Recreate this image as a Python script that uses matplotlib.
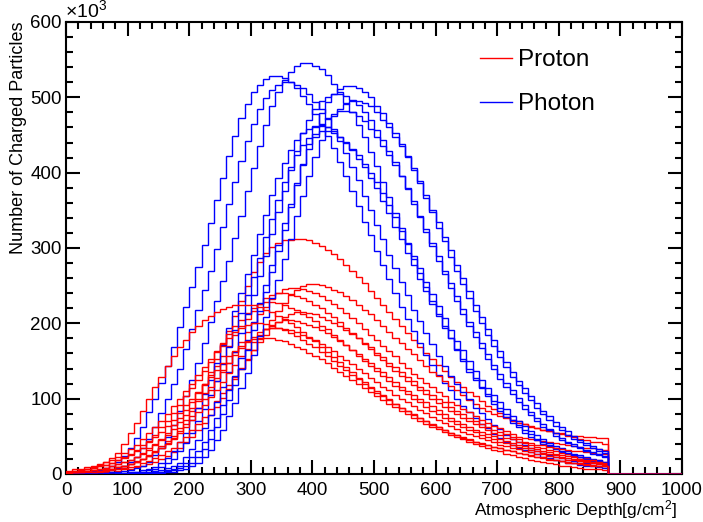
import numpy as np
import matplotlib.pyplot as plt
from matplotlib.lines import Line2D
from matplotlib.ticker import MultipleLocator

plt.rcParams['font.family'] = ['Liberation Sans', 'DejaVu Sans']
plt.rcParams['mathtext.fontset'] = 'custom'
plt.rcParams['mathtext.rm'] = 'Liberation Sans'
plt.rcParams['mathtext.it'] = 'Liberation Sans:italic'

# --- binning: 10 g/cm2 bins, axis 0-1000 ---
bin_width = 10
n_bins = 100

# --- charged particles per bin (x10^3), first bin at 0 g/cm2 ---
photon_1 = [0, 1, 2, 3, 4, 5, 8, 11, 16, 24, 34, 48, 63, 82, 100, 121, 143, 169, 195, 222, 248, 275, 304, 333, 364, 393, 422, 449, 473, 491, 507, 517, 524, 528, 528, 525, 520, 512, 502, 491, 478, 465, 449, 433, 414, 396, 375, 356, 335, 317, 296, 277, 259, 240, 222, 206, 190, 174, 158, 145, 132, 121, 111, 100, 90, 82, 74, 66, 61, 53, 48, 43, 39, 35, 32, 29, 26, 23, 21, 19, 17, 15, 14, 12, 11, 10, 9, 8]
photon_2 = [0, 0, 0, 1, 2, 3, 4, 5, 8, 10, 16, 23, 34, 47, 62, 81, 99, 120, 140, 166, 192, 218, 244, 270, 299, 328, 359, 387, 416, 442, 465, 484, 499, 510, 516, 520, 520, 517, 512, 504, 494, 484, 471, 458, 442, 426, 408, 390, 369, 351, 330, 312, 291, 273, 255, 237, 218, 203, 187, 172, 156, 143, 130, 120, 109, 99, 88, 81, 73, 65, 60, 52, 47, 43, 38, 35, 31, 28, 25, 23, 21, 19, 17, 15, 14, 12, 11, 10]
photon_3 = [0, 0, 0, 0, 0, 0, 1, 2, 3, 4, 5, 8, 11, 16, 25, 35, 49, 65, 84, 104, 125, 147, 174, 202, 229, 256, 283, 313, 343, 376, 406, 436, 463, 488, 507, 523, 534, 541, 545, 545, 542, 537, 529, 518, 507, 493, 480, 463, 447, 428, 409, 387, 368, 346, 327, 305, 286, 267, 248, 229, 213, 196, 180, 164, 150, 136, 125, 114, 104, 93, 84, 76, 68, 63, 55, 49, 45, 40, 37, 33, 29, 27, 24, 22, 20, 17, 16, 14]
photon_4 = [0, 0, 0, 0, 0, 0, 0, 0, 1, 1, 2, 3, 5, 7, 9, 14, 21, 30, 42, 55, 72, 88, 106, 125, 148, 171, 194, 217, 240, 266, 291, 319, 344, 370, 393, 413, 430, 444, 453, 458, 462, 462, 460, 455, 448, 439, 430, 418, 407, 393, 379, 363, 347, 328, 312, 293, 277, 259, 243, 226, 210, 194, 180, 166, 152, 139, 127, 116, 106, 97, 88, 79, 72, 65, 58, 53, 46, 42, 38, 34, 31, 28, 25, 23, 20, 18, 17, 15]
photon_5 = [0, 0, 0, 0, 0, 0, 0, 0, 0, 1, 1, 2, 3, 5, 7, 9, 14, 20, 30, 41, 55, 71, 86, 105, 123, 146, 168, 191, 214, 237, 262, 287, 314, 339, 364, 387, 407, 423, 437, 446, 451, 455, 455, 453, 448, 441, 432, 423, 412, 400, 387, 373, 357, 341, 323, 307, 289, 273, 255, 239, 223, 207, 191, 177, 164, 150, 137, 125, 114, 105, 96, 86, 77, 71, 64, 57, 52, 46, 41, 37, 34, 30, 27, 25, 22, 20, 18, 16]
photon_6 = [0, 0, 0, 0, 0, 0, 0, 0, 0, 0, 0, 1, 2, 3, 4, 5, 8, 10, 15, 23, 33, 45, 61, 78, 96, 116, 136, 162, 187, 212, 237, 263, 290, 318, 348, 376, 404, 429, 452, 470, 485, 495, 501, 505, 505, 502, 497, 490, 480, 470, 457, 444, 429, 414, 396, 379, 359, 341, 321, 303, 283, 265, 247, 230, 212, 197, 182, 167, 152, 139, 126, 116, 106, 96, 86, 78, 71, 63, 58, 51, 45, 41, 37, 34, 30, 27, 25, 22]
photon_7 = [0, 0, 0, 0, 0, 0, 0, 0, 0, 0, 0, 0, 1, 1, 2, 3, 5, 7, 10, 14, 22, 31, 43, 58, 75, 92, 111, 130, 154, 178, 202, 227, 251, 277, 304, 333, 359, 386, 410, 431, 448, 463, 472, 478, 482, 482, 480, 475, 468, 458, 448, 436, 424, 410, 395, 378, 362, 342, 325, 306, 289, 270, 253, 236, 219, 202, 188, 174, 159, 145, 133, 121, 111, 101, 92, 82, 75, 67, 60, 55, 48, 43, 40, 36, 32, 29, 26, 24]
photon_8 = [0, 0, 0, 0, 0, 0, 0, 0, 0, 0, 0, 0, 0, 1, 2, 3, 4, 5, 8, 10, 15, 23, 33, 46, 62, 80, 98, 118, 139, 165, 191, 216, 242, 268, 296, 324, 355, 384, 412, 438, 461, 479, 494, 505, 511, 515, 515, 512, 507, 500, 489, 479, 466, 453, 438, 422, 404, 386, 366, 348, 327, 309, 288, 270, 252, 234, 216, 201, 185, 170, 155, 142, 129, 118, 108, 98, 88, 80, 72, 64, 59, 52, 46, 42, 38, 35, 31, 28]
photon_9 = [0, 0, 0, 0, 0, 0, 0, 0, 0, 0, 0, 0, 0, 0, 1, 1, 2, 3, 5, 7, 10, 15, 22, 32, 45, 59, 77, 94, 114, 134, 158, 183, 208, 233, 257, 285, 312, 342, 369, 396, 421, 443, 460, 475, 485, 491, 495, 495, 493, 488, 480, 470, 460, 448, 436, 421, 406, 389, 371, 351, 334, 314, 297, 277, 260, 243, 225, 208, 193, 178, 163, 149, 136, 124, 114, 104, 94, 84, 77, 69, 62, 57, 50, 45, 41, 37, 33, 30]

proton_1 = [0, 0, 2, 2, 3, 4, 5, 7, 9, 11, 13, 17, 20, 25, 30, 37, 44, 51, 61, 72, 84, 100, 118, 135, 152, 170, 190, 210, 230, 250, 268, 282, 293, 301, 306, 310, 311, 312, 312, 310, 307, 303, 298, 292, 285, 278, 270, 262, 253, 243, 234, 225, 215, 206, 197, 187, 178, 168, 161, 153, 145, 137, 129, 122, 115, 109, 103, 97, 90, 86, 81, 76, 72, 70, 67, 64, 61, 59, 57, 55, 53, 51, 49, 47, 45, 43, 42, 40]
proton_2 = [0, 0, 0, 0, 1, 2, 3, 3, 4, 6, 7, 9, 11, 13, 16, 20, 24, 29, 35, 42, 49, 58, 68, 78, 89, 101, 113, 126, 139, 151, 165, 179, 193, 205, 217, 227, 237, 244, 249, 252, 252, 251, 248, 244, 241, 236, 231, 224, 218, 212, 204, 197, 189, 181, 174, 166, 159, 151, 144, 136, 130, 123, 117, 111, 105, 98, 93, 88, 83, 80, 77, 74, 71, 68, 66, 63, 61, 59, 57, 55, 54, 52, 51, 50, 49, 49, 48, 48]
proton_3 = [0, 1, 2, 2, 3, 4, 5, 7, 9, 11, 13, 16, 20, 24, 29, 35, 41, 48, 57, 67, 77, 88, 99, 111, 124, 136, 148, 162, 175, 189, 201, 212, 222, 232, 240, 245, 247, 247, 246, 243, 240, 236, 231, 226, 220, 214, 207, 200, 193, 185, 178, 170, 163, 156, 148, 141, 133, 127, 121, 115, 109, 103, 96, 91, 86, 82, 77, 72, 68, 64, 61, 57, 53, 49, 48, 46, 45, 44, 42, 41, 40, 38, 37, 36, 35, 34, 33, 32]
proton_4 = [2, 2, 3, 4, 5, 7, 8, 10, 13, 16, 19, 23, 28, 34, 40, 47, 55, 65, 74, 85, 96, 108, 120, 132, 144, 157, 170, 184, 196, 206, 216, 226, 233, 238, 240, 240, 239, 236, 233, 229, 224, 220, 214, 208, 202, 194, 187, 180, 173, 166, 158, 151, 144, 137, 130, 124, 118, 112, 106, 100, 94, 89, 84, 79, 74, 70, 66, 62, 59, 55, 52, 48, 46, 43, 41, 38, 36, 34, 32, 30, 28, 26, 24, 22, 21, 19, 18, 16]
proton_5 = [3, 4, 5, 6, 8, 10, 12, 15, 18, 22, 27, 32, 38, 44, 52, 62, 71, 81, 91, 103, 114, 125, 137, 149, 162, 174, 186, 196, 205, 214, 221, 226, 228, 228, 227, 225, 221, 218, 213, 209, 203, 197, 192, 185, 178, 171, 164, 157, 150, 144, 137, 130, 123, 117, 112, 106, 100, 95, 89, 84, 80, 75, 71, 66, 63, 59, 56, 52, 49, 46, 43, 41, 39, 36, 34, 32, 30, 28, 26, 25, 23, 21, 20, 18, 17, 16, 14, 13]
proton_6 = [0, 0, 1, 2, 2, 3, 4, 5, 6, 8, 9, 11, 14, 17, 21, 25, 30, 35, 42, 49, 58, 67, 76, 86, 97, 108, 118, 129, 141, 153, 164, 175, 185, 194, 202, 209, 213, 215, 215, 214, 212, 209, 205, 201, 197, 191, 186, 181, 174, 168, 161, 155, 148, 142, 135, 129, 123, 116, 111, 105, 100, 95, 89, 84, 80, 75, 71, 67, 62, 59, 56, 53, 49, 46, 43, 41, 39, 38, 36, 35, 33, 32, 31, 30, 29, 28, 27, 26]
proton_7 = [1, 1, 2, 3, 3, 4, 6, 7, 9, 11, 13, 16, 20, 24, 29, 34, 40, 47, 55, 63, 72, 82, 92, 102, 112, 122, 134, 145, 156, 166, 175, 184, 192, 198, 202, 204, 204, 203, 201, 198, 195, 191, 187, 182, 176, 171, 165, 159, 153, 147, 141, 135, 129, 122, 116, 110, 105, 100, 95, 90, 85, 80, 75, 71, 67, 63, 59, 56, 53, 50, 47, 44, 41, 39, 37, 35, 33, 31, 29, 27, 25, 24, 22, 20, 19, 18, 16, 15]
proton_8 = [2, 3, 3, 4, 5, 7, 8, 10, 13, 16, 19, 23, 27, 32, 38, 45, 52, 60, 69, 78, 87, 97, 107, 116, 127, 138, 148, 158, 167, 175, 182, 188, 192, 194, 194, 193, 191, 188, 185, 181, 178, 173, 168, 163, 157, 151, 146, 140, 134, 128, 122, 116, 111, 105, 100, 95, 90, 85, 81, 76, 72, 68, 64, 60, 56, 53, 50, 48, 45, 42, 39, 37, 35, 33, 31, 29, 27, 26, 24, 23, 21, 19, 18, 17, 16, 14, 13, 12]
proton_9 = [3, 4, 5, 6, 8, 10, 12, 14, 18, 21, 25, 30, 35, 42, 49, 56, 64, 72, 81, 91, 100, 109, 119, 129, 138, 148, 156, 163, 170, 176, 179, 181, 181, 180, 178, 176, 173, 169, 166, 161, 157, 152, 147, 141, 136, 130, 125, 119, 114, 109, 103, 98, 93, 89, 84, 80, 75, 71, 67, 63, 60, 56, 52, 49, 46, 43, 40, 37, 34, 32, 30, 27, 25, 23, 21, 19, 17, 16, 14, 13, 11, 10, 9, 8, 7, 6, 6, 5]
proton_10 = [1, 2, 4, 6, 9, 12, 16, 21, 28, 40, 55, 68, 84, 100, 115, 129, 143, 156, 168, 178, 188, 196, 204, 210, 215, 219, 222, 224, 225, 225, 224, 222, 218, 215, 210, 206, 200, 195, 189, 182, 176, 169, 162, 155, 149, 142, 135, 128, 122, 116, 110, 105, 99, 93, 88, 83, 79, 74, 70, 65, 62, 59, 55, 52, 48, 45, 43, 41, 38, 36, 34, 32, 30, 28, 26, 24, 23, 21, 19, 18, 17, 15, 14, 13, 12, 11, 10, 10]
proton_11 = [4, 6, 7, 9, 11, 13, 16, 19, 23, 28, 33, 39, 46, 54, 62, 71, 80, 90, 100, 110, 120, 131, 142, 153, 163, 172, 180, 188, 194, 198, 200, 200, 199, 197, 194, 191, 187, 183, 178, 173, 168, 162, 156, 150, 144, 138, 132, 126, 120, 114, 108, 103, 98, 93, 88, 83, 78, 74, 70, 66, 62, 58, 55, 52, 49, 46, 43, 40, 38, 36, 34, 32, 30, 28, 26, 25, 23, 22, 20, 19, 17, 16, 15, 14, 13, 12, 11, 10]

photons = [photon_1, photon_2, photon_3, photon_4, photon_5, photon_6, photon_7, photon_8, photon_9]
protons = [proton_1, proton_2, proton_3, proton_4, proton_5, proton_6, proton_7, proton_8, proton_9,
           proton_10, proton_11]

edges = np.arange(n_bins + 1) * bin_width


def full_hist(counts):
    # empty bins after the last filled one
    h = np.zeros(n_bins)
    h[:len(counts)] = counts
    return h


fig = plt.figure(figsize=(7.03, 5.22), dpi=100)
ax = fig.add_axes([66 / 703, 48 / 522, 616 / 703, 452 / 522])

for i in range(max(len(protons), len(photons))):
    if i < len(protons):
        ax.stairs(full_hist(protons[i]), edges, color='#ff0000', lw=1.0, zorder=3)
    if i < len(photons):
        ax.stairs(full_hist(photons[i]), edges, color='#0000ff', lw=1.0, zorder=3)

ax.set_xlim(0, 1000)
ax.set_ylim(0, 600)
ax.xaxis.set_major_locator(MultipleLocator(100))
ax.xaxis.set_minor_locator(MultipleLocator(20))
ax.yaxis.set_major_locator(MultipleLocator(100))
ax.yaxis.set_minor_locator(MultipleLocator(20))
ax.tick_params(which='both', direction='in', top=True, right=True, width=1.5, labelsize=13.5)
ax.tick_params(which='major', length=10)
ax.tick_params(which='minor', length=5)
ax.tick_params(axis='x', pad=6)
ax.tick_params(axis='y', pad=3)
for s in ax.spines.values():
    s.set_linewidth(1.5)

ax.set_xlabel('Atmospheric Depth[g/cm$^{2}$]', fontsize=12.5, loc='right')
ax.xaxis.set_label_coords(0.992, -0.054)
ax.set_ylabel('Number of Charged Particles', fontsize=13, loc='top')
ax.yaxis.set_label_coords(-0.063, 1.0)

fig.text(65 / 703, 1 - 17 / 522, '×10$^{3}$', ha='left', va='baseline', fontsize=14)

handles = [Line2D([], [], color='#ff0000', lw=1.0), Line2D([], [], color='#0000ff', lw=1.0)]
ax.legend(handles, ['Proton', 'Photon'], loc='upper left', bbox_to_anchor=(0.672, 0.94),
          frameon=False, fontsize=17.5, handlelength=1.32, handletextpad=0.25,
          labelspacing=0.9, borderpad=0, borderaxespad=0)

fig.savefig('out.png', dpi=100)
